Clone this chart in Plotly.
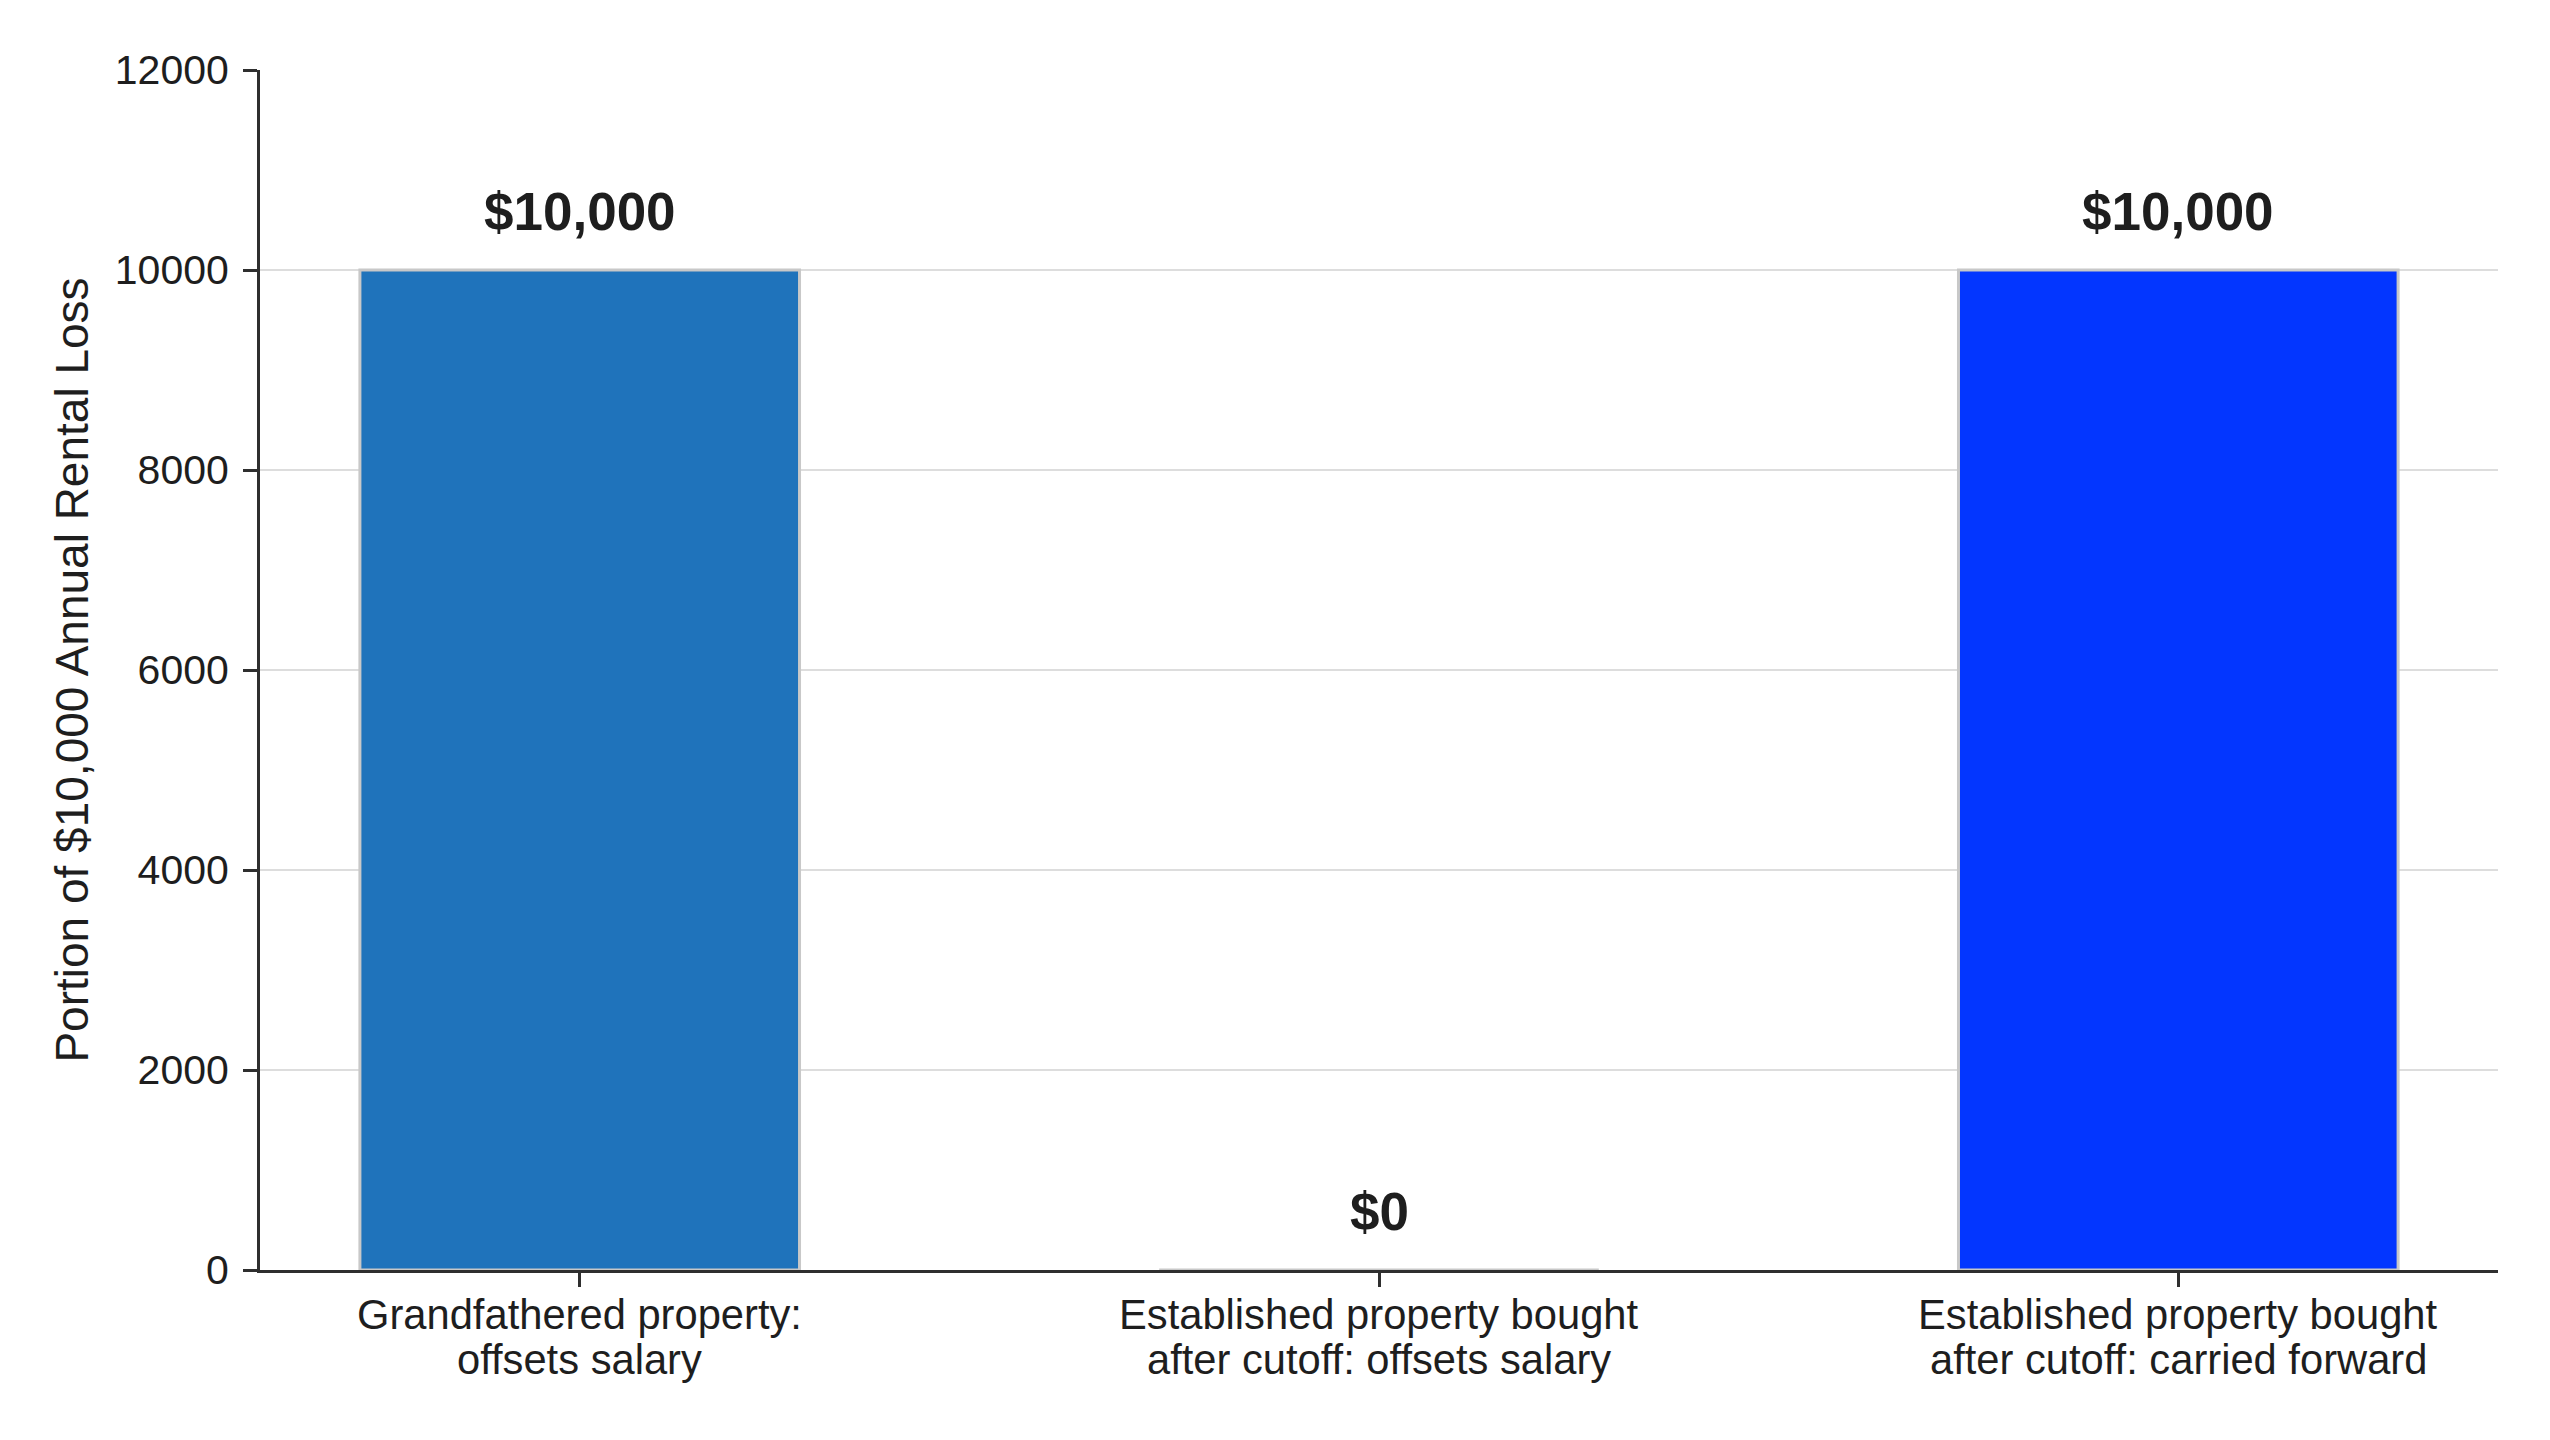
import plotly.graph_objects as go

categories = [
    "Grandfathered property:<br>offsets salary",
    "Established property bought<br>after cutoff: offsets salary",
    "Established property bought<br>after cutoff: carried forward",
]
values = [10000, 0, 10000]
value_labels = ["$10,000", "$0", "$10,000"]
bar_colors = ["#1f73bb", "#0336ff", "#0336ff"]
y_ticks = [0, 2000, 4000, 6000, 8000, 10000, 12000]
y_title = "Portion of $10,000 Annual Rental Loss"

FONT = "Liberation Sans, Arial, sans-serif"
TXT = "#1e1e1e"
AX = "#2f2f2f"

fig = go.Figure()
fig.add_trace(go.Bar(
    x=categories,
    y=values,
    width=0.55,
    marker=dict(color=bar_colors, line=dict(color="#c8c8c8", width=3)),
    showlegend=False,
    hoverinfo="skip",
))

for c, v, t in zip(categories, values, value_labels):
    fig.add_annotation(
        x=c, y=v, text=f"<b>{t}</b>", showarrow=False,
        yanchor="bottom", yshift=27,
        font=dict(family=FONT, size=53, color=TXT),
    )

# category labels, one annotation per line (tighter line spacing than <br>)
for c in categories:
    for i, line in enumerate(c.split("<br>")):
        fig.add_annotation(
            x=c, y=0, text=line, showarrow=False,
            yanchor="top", yshift=-19 - 45 * i,
            font=dict(family=FONT, size=41.7, color=TXT),
        )

fig.update_layout(
    width=2550, height=1440,
    margin=dict(l=260, r=52, t=70, b=170, autoexpand=False),
    plot_bgcolor="white", paper_bgcolor="white",
    font=dict(family=FONT, size=41, color=TXT),
    bargap=0.45,
)
fig.update_xaxes(
    type="category",
    range=[-0.4, 2.4],
    showline=True, linecolor=AX, linewidth=3,
    ticks="outside", ticklen=14, tickwidth=3, tickcolor=AX,
    showgrid=False, zeroline=False,
    showticklabels=False,
    automargin=False,
)
fig.update_yaxes(
    range=[0, 12000],
    tickvals=y_ticks,
    ticktext=[str(v) for v in y_ticks],
    showline=True, linecolor=AX, linewidth=3,
    ticks="outside", ticklen=14, tickwidth=3, tickcolor=AX,
    showgrid=True, gridcolor="#dddddd", gridwidth=2,
    zeroline=False,
    tickfont=dict(family=FONT, size=41, color=TXT),
    ticklabelstandoff=6,
    title=dict(text=y_title, font=dict(family=FONT, size=46, color=TXT), standoff=12),
    automargin=False,
)

fig.write_html(
    "out.html",
    config={"displayModeBar": False},
    post_script="document.body.style.margin='0';",
)
